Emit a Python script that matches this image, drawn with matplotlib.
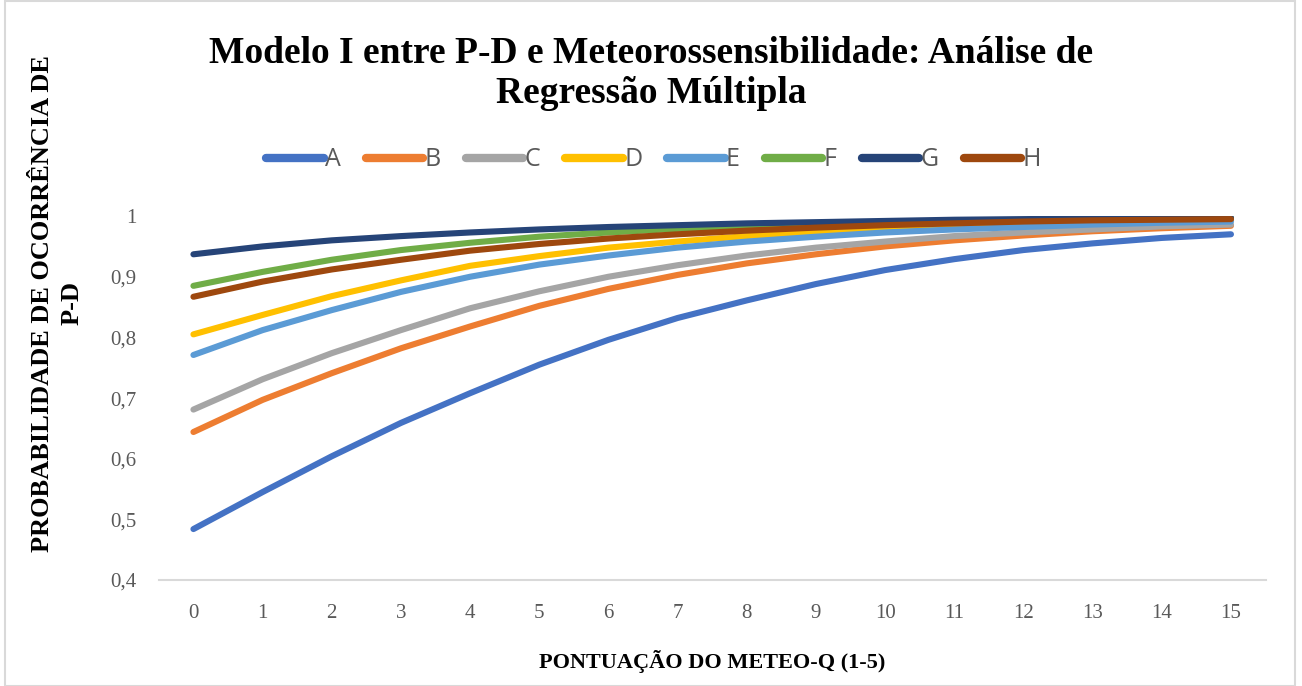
import numpy as np
import matplotlib.pyplot as plt
from matplotlib.patches import Rectangle
from matplotlib.ticker import FuncFormatter

x = list(range(16))
labels = ["A", "B", "C", "D", "E", "F", "G", "H"]
colors = ["#4472C4", "#ED7D31", "#A5A5A5", "#FFC000",
          "#5B9BD5", "#70AD47", "#264478", "#9E480E"]

A = [0.484, 0.545, 0.604, 0.659, 0.708, 0.755, 0.796, 0.832,
     0.861, 0.888, 0.911, 0.929, 0.944, 0.955, 0.964, 0.970]
B = [0.644, 0.697, 0.741, 0.782, 0.818, 0.852, 0.880, 0.903,
     0.922, 0.937, 0.950, 0.960, 0.968, 0.975, 0.980, 0.984]
C = [0.681, 0.731, 0.774, 0.812, 0.848, 0.876, 0.900, 0.919,
     0.935, 0.948, 0.958, 0.967, 0.973, 0.978, 0.983, 0.986]
D = [0.805, 0.837, 0.868, 0.894, 0.918, 0.934, 0.948, 0.958,
     0.967, 0.974, 0.979, 0.983, 0.987, 0.989, 0.991, 0.993]
E = [0.771, 0.812, 0.845, 0.875, 0.900, 0.920, 0.935, 0.948,
     0.958, 0.966, 0.973, 0.978, 0.982, 0.986, 0.989, 0.991]
F = [0.885, 0.908, 0.928, 0.944, 0.956, 0.966, 0.973, 0.979,
     0.983, 0.987, 0.990, 0.992, 0.993, 0.995, 0.996, 0.997]
G = [0.937, 0.950, 0.960, 0.967, 0.973, 0.978, 0.982, 0.985,
     0.988, 0.990, 0.992, 0.994, 0.995, 0.996, 0.997, 0.997]
H = [0.867, 0.892, 0.912, 0.928, 0.943, 0.954, 0.963, 0.970,
     0.976, 0.981, 0.985, 0.988, 0.991, 0.993, 0.994, 0.995]
series = [A, B, C, D, E, F, G, H]

serif = ["Liberation Serif", "DejaVu Serif"]
grey = "#595959"

fig = plt.figure(figsize=(13.02, 6.86), dpi=100)
ax = fig.add_axes([0.122, 0.1545, 0.85, 0.5305])

for ys, lab, col in zip(series, labels, colors):
    ax.plot(x, ys, color=col, lw=4.4, label=lab, solid_capstyle="round")

ax.set_xlim(-0.5, 15.5)
ax.set_ylim(0.4, 1.0)
ax.set_xticks(x)
ax.set_yticks(np.arange(0.4, 1.01, 0.1))
ax.yaxis.set_major_formatter(FuncFormatter(
    lambda v, p: "1" if abs(v - 1) < 1e-9 else f"{v:.1f}".replace(".", ",")))
for s in ["top", "right", "left"]:
    ax.spines[s].set_visible(False)
ax.spines["bottom"].set_color("#D9D9D9")
ax.spines["bottom"].set_linewidth(1.5)
ax.tick_params(length=0, labelsize=15, labelcolor=grey)
ax.tick_params(axis="x", pad=17)
ax.tick_params(axis="y", pad=16)
for t in ax.get_xticklabels() + ax.get_yticklabels():
    t.set_fontfamily(serif)

fig.text(0.5, 0.893, "Modelo I entre P-D e Meteorossensibilidade: Análise de\nRegressão Múltipla",
         ha="center", va="center", fontsize=27, fontweight="bold",
         family=serif, linespacing=1.18)
fig.text(0.547, 0.035, "PONTUAÇÃO DO METEO-Q (1-5)", ha="center", va="center",
         fontsize=16, fontweight="bold", family=serif)
fig.text(0.044, 0.558, "PROBABILIDADE DE OCORRÊNCIA DE\nP-D", ha="center",
         va="center", rotation=90, fontsize=19, fontweight="bold",
         family=serif, linespacing=1.4)

leg = fig.legend(loc="center", bbox_to_anchor=(0.502, 0.767), ncol=8, frameon=False,
                 handlelength=2.3, handletextpad=0.05, columnspacing=1.0,
                 prop={"family": ["Open Sans", "DejaVu Sans"], "size": 18},
                 labelcolor=grey)
for h in leg.get_lines():
    h.set_linewidth(6)

fig.patches.append(Rectangle((0.004, 0.0), 0.991, 0.999, transform=fig.transFigure,
                             fill=False, edgecolor="#D9D9D9", lw=1.5))

fig.savefig("out.png", dpi=100)
